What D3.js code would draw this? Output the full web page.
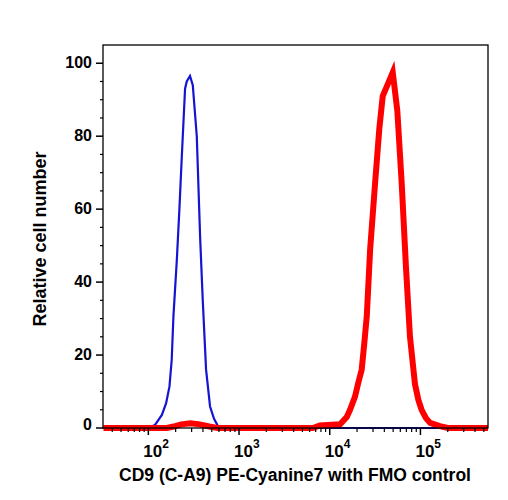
<!DOCTYPE html>
<html>
<head>
<meta charset="utf-8">
<script src="https://cdn.jsdelivr.net/npm/d3@7"></script>
<style>
  body { margin: 0; background: #fff; }
  text { font-family: "Liberation Sans", Arial, Helvetica, sans-serif; font-weight: bold; fill: #000; }
</style>
</head>
<body>
<div id="chart"></div>
<script>
// --- data (fluorescence intensity vs relative count)
let fmoX = [32, 100, 118, 141, 157, 171, 181, 189, 206, 220, 233, 254, 265, 288, 309, 342, 372, 398, 433, 479, 530, 589, 700, 560000];
let fmoY = [0, 0, 0.8, 3.6, 6.8, 11.4, 18.7, 30.6, 46, 60, 73.6, 93, 95, 96.5, 94, 80, 52.5, 35, 16, 5.9, 2.5, 0.4, 0, 0];

let cd9X = [32, 160, 190, 230, 290, 370, 470, 580, 6500, 7800, 13000, 15400, 16700, 19000, 20600, 22500, 24000, 25600, 27900, 31600, 35200, 38400, 43200, 49500, 55600, 62200, 69300, 76700, 87100, 94900, 103000, 115000, 128000, 164000, 200000, 560000];
let cd9Y = [0, 0, 0.4, 1.0, 1.3, 1.0, 0.4, 0, 0, 0.7, 1.0, 3, 4.9, 8.6, 12.3, 16, 23, 30.6, 49, 67, 82, 91, 94, 97.5, 87, 67, 44, 25, 12, 7.7, 5, 2.7, 1.4, 0.5, 0, 0];

let yTicks = [0, 20, 40, 60, 80, 100];
let xDecades = [2, 3, 4, 5];

let width = 508, height = 500;
let margin = {top: 45, right: 20, bottom: 72, left: 103};
let w = width - margin.left - margin.right;
let h = height - margin.top - margin.bottom;

let svg = d3.select("#chart").append("svg")
    .attr("width", width)
    .attr("height", height);

let g = svg.append("g")
    .attr("transform", "translate(" + margin.left + "," + margin.top + ")");

let x = d3.scaleLog()
    .domain([Math.pow(10, 1.5), Math.pow(10, 5.745)])
    .range([0, w]);

let y = d3.scaleLinear()
    .domain([0, 105])
    .range([h, 0]);

// clip to plot area (a bit below so the thick baseline shows)
g.append("clipPath").attr("id", "clip")
  .append("rect")
    .attr("x", 0).attr("y", 0)
    .attr("width", w).attr("height", h + 4);

let line = d3.line()
    .x(d => x(d[0]))
    .y(d => y(d[1]));

g.append("path")
    .datum(d3.zip(fmoX, fmoY))
    .attr("clip-path", "url(#clip)")
    .attr("fill", "none")
    .attr("stroke", "#1414d2")
    .attr("stroke-width", 2.2)
    .attr("stroke-linejoin", "miter")
    .attr("d", line);

g.append("path")
    .datum(d3.zip(cd9X, cd9Y))
    .attr("clip-path", "url(#clip)")
    .attr("fill", "none")
    .attr("stroke", "#ff0000")
    .attr("stroke-width", 6)
    .attr("stroke-linejoin", "miter")
    .attr("d", line);

// frame
g.append("rect")
    .attr("x", 0).attr("y", 0)
    .attr("width", w).attr("height", h)
    .attr("fill", "none")
    .attr("stroke", "#000")
    .attr("stroke-width", 1.3);

// y axis ticks
let yMinor = d3.range(5, 105, 5).filter(v => v % 20 != 0);
g.selectAll(".ymin").data(yMinor).enter().append("line")
    .attr("x1", -3).attr("x2", 0)
    .attr("y1", d => y(d)).attr("y2", d => y(d))
    .attr("stroke", "#000").attr("stroke-width", 1.2);
g.selectAll(".ymaj").data(yTicks).enter().append("line")
    .attr("x1", -7).attr("x2", 0)
    .attr("y1", d => y(d)).attr("y2", d => y(d))
    .attr("stroke", "#000").attr("stroke-width", 1.5);
g.selectAll(".ylab").data(yTicks).enter().append("text")
    .attr("x", -11)
    .attr("y", d => d == 0 ? y(d) + 2 : y(d) + 5)
    .attr("text-anchor", "end")
    .style("font-size", "16px")
    .text(d => d);

// x axis ticks (log)
let xMinor = [];
for (let e = 1; e <= 5; e++) {
  for (let m = 2; m <= 9; m++) {
    let v = m * Math.pow(10, e);
    if (v >= x.domain()[0] && v <= x.domain()[1]) xMinor.push(v);
  }
}
g.selectAll(".xmin").data(xMinor).enter().append("line")
    .attr("x1", d => x(d)).attr("x2", d => x(d))
    .attr("y1", h).attr("y2", h + 4)
    .attr("stroke", "#000").attr("stroke-width", 1.2);
g.selectAll(".xmaj").data(xDecades).enter().append("line")
    .attr("x1", d => x(Math.pow(10, d))).attr("x2", d => x(Math.pow(10, d)))
    .attr("y1", h).attr("y2", h + 7)
    .attr("stroke", "#000").attr("stroke-width", 1.5);

let xl = g.selectAll(".xlab").data(xDecades).enter().append("text")
    .attr("x", d => x(Math.pow(10, d)) - 5)
    .attr("y", h + 29);
xl.append("tspan").style("font-size", "17px").text("10");
xl.append("tspan").style("font-size", "12px").attr("dy", -9).text(d => d);

// axis titles
svg.append("text")
    .attr("x", 295)
    .attr("y", 481)
    .attr("text-anchor", "middle")
    .style("font-size", "17.5px")
    .text("CD9 (C-A9) PE-Cyanine7 with FMO control");

svg.append("text")
    .attr("transform", "translate(46,239) rotate(-90)")
    .attr("text-anchor", "middle")
    .style("font-size", "18px")
    .text("Relative cell number");
</script>
</body>
</html>
